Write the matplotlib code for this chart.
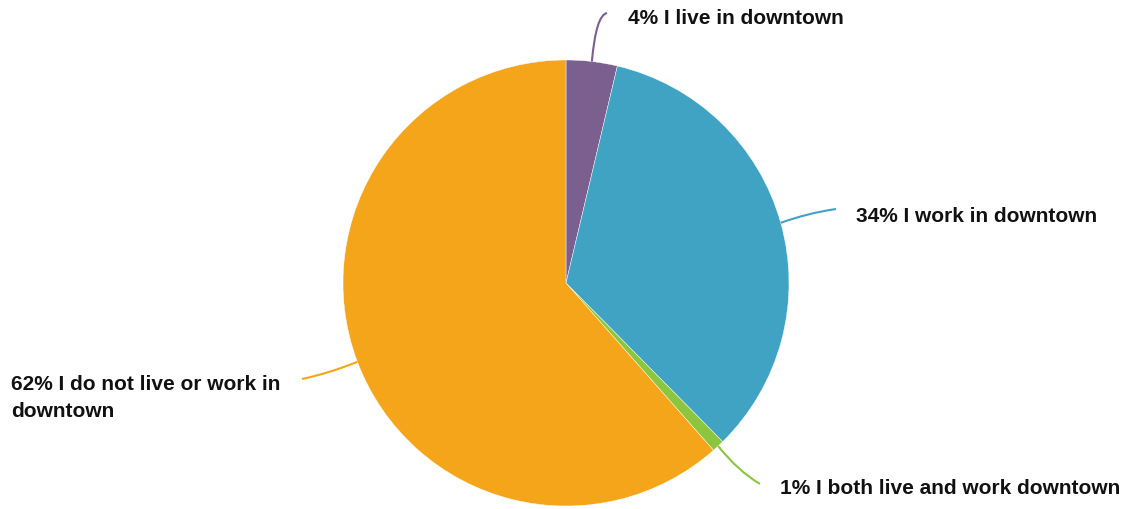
import numpy as np
import matplotlib.pyplot as plt
from matplotlib.path import Path
from matplotlib.patches import PathPatch

# Survey answers (percent of respondents)
labels = ['I live in downtown', 'I work in downtown',
          'I both live and work downtown', 'I do not live or work in\ndowntown']
values = [3.7, 33.9, 0.9, 61.5]
colors = ['#7B5F8E', '#40A3C3', '#8CC63E', '#F4A519']

W, H = 1126, 510
fig = plt.figure(figsize=(W / 100, H / 100), dpi=100)
ax = fig.add_axes([0, 0, 1, 1])

center = (566, 226)
radius = 223
ax.pie(values, colors=colors, startangle=90, counterclock=False,
       center=center, radius=radius, frame=True,
       wedgeprops=dict(edgecolor='white', linewidth=0.3))
ax.set_xlim(0, W)
ax.set_ylim(0, H)
ax.set_aspect('equal')
ax.axis('off')

# leader end, bezier control point, text position
leaders = [
    dict(end=(607, 496), ctrl=(596, 494), text=(628, 492)),
    dict(end=(836, 300), ctrl=(808, 296), text=(856, 294)),
    dict(end=(760, 25), ctrl=(738, 38), text=(780, 21)),
    dict(end=(302, 130), ctrl=(330, 136), text=(11, 112)),
]

cum = 0
for v, lab, col, ld in zip(values, labels, colors, leaders):
    mid = np.deg2rad(90 - (cum + v / 2) / 100 * 360)
    cum += v
    start = (center[0] + radius * np.cos(mid), center[1] + radius * np.sin(mid))
    path = Path([start, ld['ctrl'], ld['end']], [Path.MOVETO, Path.CURVE3, Path.CURVE3])
    ax.add_patch(PathPatch(path, fill=False, edgecolor=col, linewidth=1.5))
    ax.text(ld['text'][0], ld['text'][1], f'{v:.0f}% {lab}', ha='left',
            va='center', multialignment='left', fontsize=15, fontweight='bold',
            family='Liberation Sans', color='#111111', linespacing=1.5)

fig.savefig('out.png', dpi=100)
